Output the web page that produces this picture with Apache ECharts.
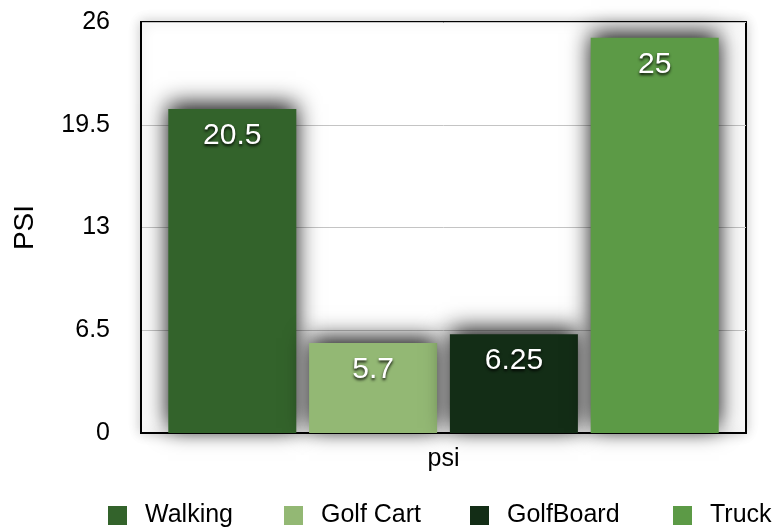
<!DOCTYPE html>
<html>
<head>
<meta charset="utf-8">
<script src="https://cdn.jsdelivr.net/npm/echarts@6/dist/echarts.min.js"></script>
<style>html,body{margin:0;padding:0;background:#fff;}#c{width:777px;height:527px;}</style>
</head>
<body>
<div id="c"></div>
<script>
var categories = ['psi'];
var seriesNames = ['Walking', 'Golf Cart', 'GolfBoard', 'Truck'];
var walking = [20.5];
var golfCart = [5.7];
var golfBoard = [6.25];
var truck = [25];
var yTicks = [0, 6.5, 13, 19.5, 26];
var colors = ['#33632b', '#93b874', '#132d16', '#5c9a46'];
var values = [walking, golfCart, golfBoard, truck];

var font = '"Liberation Sans", Arial, Helvetica, sans-serif';
var chart = echarts.init(document.getElementById('c'), null, {renderer: 'canvas'});

var legendLefts = [108, 284, 470, 673];
var legends = seriesNames.map(function (n, i) {
  return {
    data: [n], left: legendLefts[i], top: 503, padding: 0,
    itemWidth: 19, itemHeight: 19, icon: 'rect',
    textStyle: {fontFamily: font, fontSize: 25, color: '#000', padding: [0, 0, 0, 13]}
  };
});

var series = seriesNames.map(function (n, i) {
  return {
    name: n, type: 'bar', data: values[i],
    barWidth: 128, barGap: '10%',
    itemStyle: {color: colors[i], shadowBlur: 22, shadowColor: 'rgba(0,0,0,0.95)', shadowOffsetY: -5},
    label: {
      show: true, position: 'insideTop', distance: 12,
      fontFamily: font, fontSize: 30, color: '#fff',
      textShadowColor: 'rgba(0,0,0,0.9)', textShadowBlur: 3, textShadowOffsetY: 2
    }
  };
});

chart.setOption({
  animation: false,
  backgroundColor: '#fff',
  grid: {left: 141, top: 22, right: 31, bottom: 94, show: true, borderColor: '#000', borderWidth: 2,
         backgroundColor: '#fff', shadowBlur: 12, shadowColor: 'rgba(0,0,0,0.2)'},
  legend: legends,
  xAxis: {
    type: 'category', data: categories,
    axisLine: {lineStyle: {color: '#000', width: 2}},
    axisTick: {show: false},
    axisLabel: {fontFamily: font, fontSize: 25, color: '#000', margin: 14}
  },
  yAxis: {
    type: 'value', min: yTicks[0], max: yTicks[yTicks.length - 1], interval: yTicks[1] - yTicks[0],
    name: 'PSI', nameLocation: 'middle', nameGap: 102, nameRotate: 90,
    nameTextStyle: {fontFamily: font, fontSize: 28, color: '#000'},
    axisLine: {show: true, lineStyle: {color: '#000', width: 2}},
    axisTick: {show: false},
    axisLabel: {fontFamily: font, fontSize: 25, color: '#000', margin: 31},
    splitLine: {lineStyle: {color: '#c4c4c4', width: 1}}
  },
  series: series
});
</script>
</body>
</html>
